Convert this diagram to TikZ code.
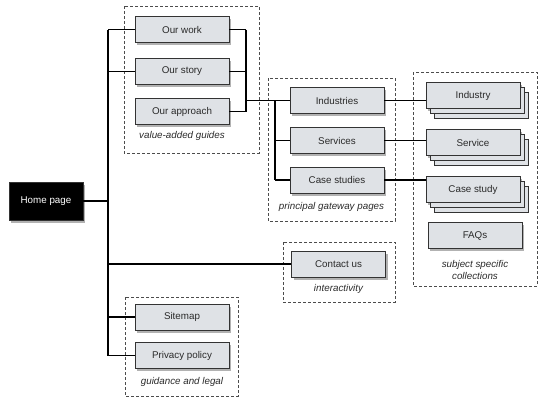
\documentclass[tikz,border=0pt]{standalone}
\usepackage{fontspec}
\setmainfont{Liberation Sans}
\usetikzlibrary{shadows,positioning}
\definecolor{pagegray}{HTML}{DFE2E6}
\definecolor{inktext}{HTML}{2A2A2A}
\tikzset{
  page/.style={draw=black!80, line width=.8pt, fill=pagegray, text=inktext,
    minimum width=94pt, minimum height=26pt, inner sep=0pt,
    font=\fontsize{9.8}{12}\selectfont,
    drop shadow={shadow xshift=2pt, shadow yshift=-2.5pt, fill=black!55, opacity=.55}},
  stackpage/.style={page, double copy shadow={shadow xshift=4pt, shadow yshift=-5pt, draw=black!80, fill=pagegray}},
  homepage/.style={page, fill=black, text=white, minimum width=74pt, minimum height=38pt},
  grouplabel/.style={font=\fontsize{9.8}{11.5}\itshape, text=inktext, align=center, inner sep=0pt},
  groupbox/.style={draw=black!70, line width=.7pt, dash pattern=on 3pt off 2pt},
  link/.style={line width=1.3pt, black}
}
\begin{document}
\begin{tikzpicture}[x=1pt,y=-1pt]
\useasboundingbox (0,0) rectangle (545,408);
% groups
\draw[groupbox] (124,6) rectangle (259,153);
\draw[groupbox] (268,78) rectangle (395,221);
\draw[groupbox] (413,72) rectangle (537,286);
\draw[groupbox] (283,242) rectangle (395,302);
\draw[groupbox] (125,297) rectangle (238,396);
% pages
\node[homepage] (home) at (46,201) {Home page};
\node[page] (work) at (182,29.5) {Our work};
\node[page] (story) at (182,71.5) {Our story};
\node[page] (approach) at (182,111.5) {Our approach};
\node[grouplabel] at (182,136) {value-added guides};
\node[page] (industries) at (337,100.5) {Industries};
\node[page] (services) at (337,140.5) {Services};
\node[page] (cases) at (337,180) {Case studies};
\node[grouplabel] at (331.5,207) {principal gateway pages};
\node[stackpage] (industry) at (473,95.5) {Industry};
\node[stackpage] (service) at (473,142.5) {Service};
\node[stackpage] (casestudy) at (473,189.5) {Case study};
\node[page] (faqs) at (475,235.5) {FAQs};
\node[grouplabel] at (475,270) {subject specific\\collections};
\node[page] (contact) at (338.5,264) {Contact us};
\node[grouplabel] at (338.5,289) {interactivity};
\node[page] (sitemap) at (182,317) {Sitemap};
\node[page] (privacy) at (182,355.5) {Privacy policy};
\node[grouplabel] at (182,382) {guidance and legal};
% trunk from the home page
\coordinate (trunktop) at (108,29.5);
\coordinate (trunkend) at (108,355.5);
\draw[link] (trunktop) -- (trunkend);
\draw[link] (home.east) -- (home.east -| trunktop);
\foreach \n in {work,story,sitemap,privacy,contact}
  \draw[link] (trunktop |- \n.west) -- (\n.west);
% guides to gateway pages
\coordinate (guidejoin) at (246,29.5);
\coordinate (gatejoin) at (275,100.5);
\draw[link] (guidejoin) -- (guidejoin |- approach.east);
\foreach \n in {work,story,approach}
  \draw[link] (\n.east) -- (guidejoin |- \n.east);
\draw[link] (guidejoin |- gatejoin) -- (gatejoin) -- (gatejoin |- cases.west);
\foreach \n in {industries,services,cases}
  \draw[link] (gatejoin |- \n.west) -- (\n.west);
% gateway pages to collections
\draw[link] (industries.east) -- (industries.east -| industry.west);
\draw[link] (services.east) -- (services.east -| service.west);
\draw[link] (cases.east) -- (cases.east -| casestudy.west);
\end{tikzpicture}
\end{document}
